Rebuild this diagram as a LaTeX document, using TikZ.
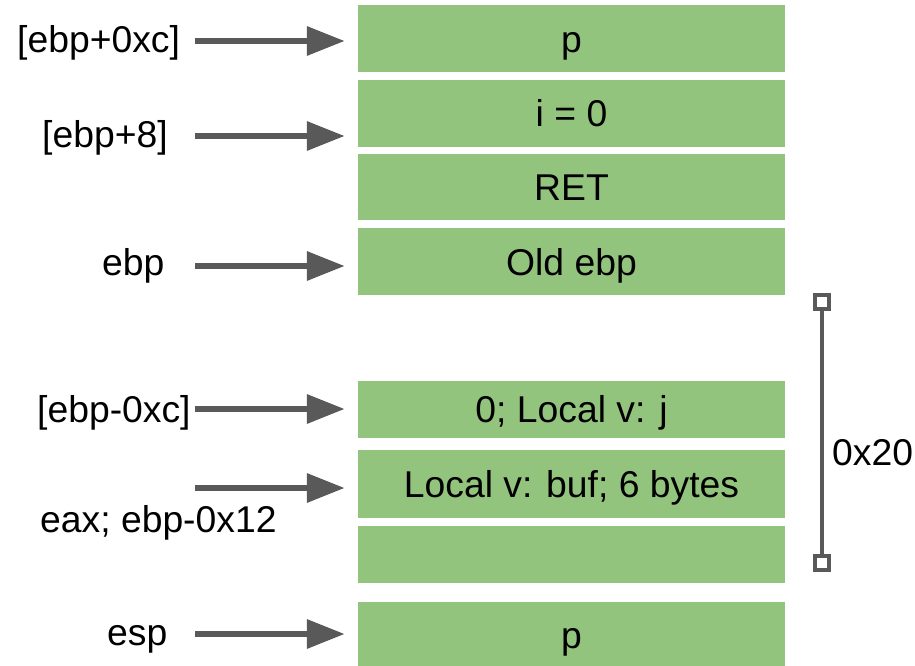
\documentclass[tikz,border=0pt]{standalone}
\usepackage{fontspec}
\setmainfont{Liberation Sans}
\usetikzlibrary{positioning, arrows.meta}

\begin{document}
\begin{tikzpicture}[
  x=1pt, y=-1pt,
  every node/.style={
    font=\fontsize{37.3}{44}\selectfont,
    inner sep=0pt,
  },
  cell/.style={
    fill=cellgreen,
    minimum width=427pt,
    minimum height=67pt,
    text height=27pt,
    text depth=0pt,
    anchor=north,
  },
  ptr/.style={
    draw=ptrgray,
    line width=6.5pt,
    -{Triangle[length=38pt,width=28pt]},
    shorten >=13pt,
  },
  lbl/.style={anchor=base west},
  endmark/.style={
    draw=ptrgray,
    line width=4pt,
    fill=white,
    minimum size=14pt,
  },
]
  \definecolor{cellgreen}{RGB}{147,196,125}
  \definecolor{ptrgray}{RGB}{89,89,89}
  \useasboundingbox (0,0) rectangle (915,666);

  % stack cells
  \node[cell] (pTop) at (571.5,5) {p};
  \node[cell, yshift=-7pt] (iArg) at (pTop.south) {i = 0};
  \node[cell, minimum height=66pt, yshift=-7pt] (ret) at (iArg.south) {RET};
  \node[cell, yshift=-8pt] (oldEbp) at (ret.south) {Old ebp};
  \node[cell, minimum height=57pt, yshift=-85pt] (locJ) at (oldEbp.south) {0; Local v: j};
  \node[cell, minimum height=68pt, yshift=-12pt] (buf) at (locJ.south) {Local v: buf; 6 bytes};
  \node[cell, minimum height=57pt, yshift=-7pt] (pad) at (buf.south) {};
  \node[cell, minimum height=65pt, yshift=-19pt] (pBot) at (pad.south) {p};

  % register labels
  \node[lbl] (lEbpC) at (17,53) {[ebp+0xc]};
  \node[lbl] (lEbp8) at (42,147) {[ebp+8]};
  \node[lbl] (lEbp) at (102,275) {ebp};
  \node[lbl] (lEbpM) at (37,422) {[ebp-0xc]};
  \node[lbl] (lEax) at (40,532) {eax; ebp-0x12};
  \node[lbl] (lEsp) at (107,645) {esp};

  % pointers
  \coordinate (t1) at (195,41);
  \coordinate (t2) at (195,136);
  \coordinate (t3) at (195,266);
  \coordinate (t4) at (195,409);
  \coordinate (t5) at (195,488);
  \coordinate (t6) at (195,634);
  \draw[ptr] (t1) -- (t1 -| pTop.west);
  \draw[ptr] (t2) -- (t2 -| iArg.west);
  \draw[ptr] (t3) -- (t3 -| oldEbp.west);
  \draw[ptr] (t4) -- (t4 -| locJ.west);
  \draw[ptr] (t5) -- (t5 -| buf.west);
  \draw[ptr] (t6) -- (t6 -| pBot.west);

  % frame size
  \node[endmark] (sqTop) at (822,302) {};
  \node[endmark] (sqBot) at (822,563) {};
  \draw[draw=ptrgray, line width=4pt] (sqTop) -- (sqBot);
  \node[lbl] (lSize) at (832,465) {0x20};
\end{tikzpicture}
\end{document}
